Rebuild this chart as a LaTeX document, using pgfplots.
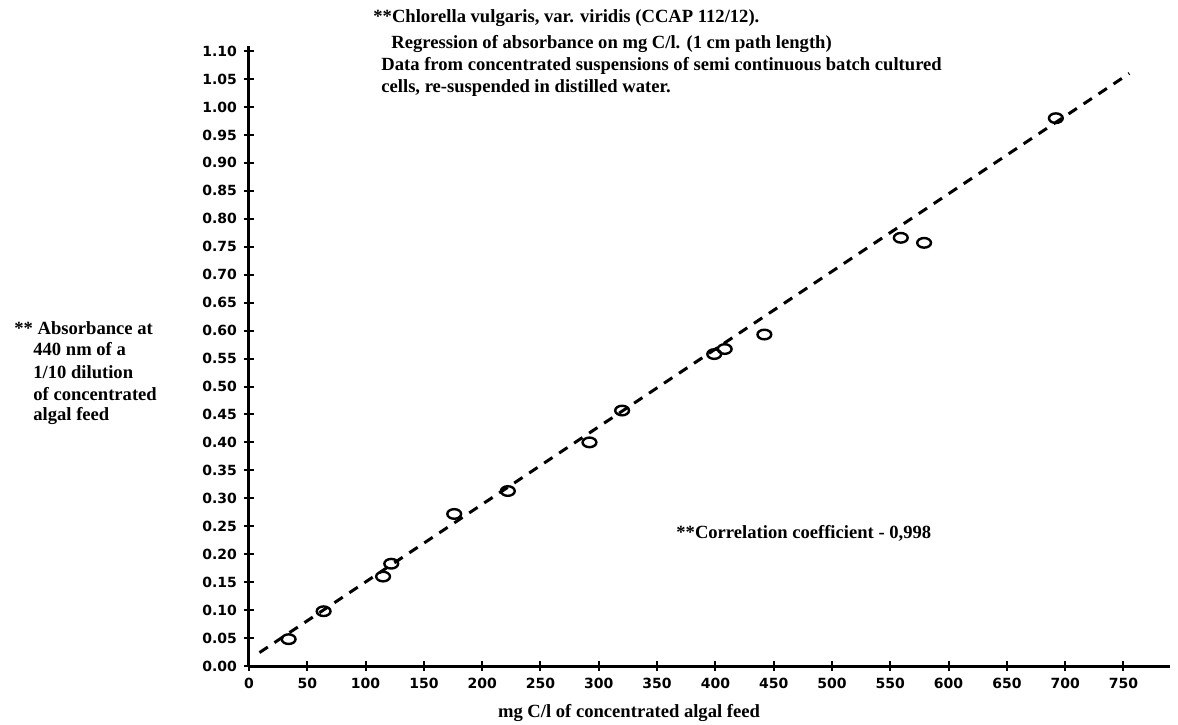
\documentclass[border=0pt]{standalone}
\usepackage{pgfplots}
\pgfplotsset{compat=1.18}
\usepackage{fontspec}
\setmainfont{Liberation Serif}
\newfontfamily\tickfont{DejaVu Sans}
\begin{document}
\begin{tikzpicture}
\useasboundingbox (-124.5pt,-29pt) rectangle (464.5pt,333pt);
\begin{axis}[
  x=0.583pt, y=279.5pt,
  xmin=0, xmax=790, ymin=0, ymax=1.11,
  axis x line=bottom, axis y line=left,
  axis line style={-, line width=1.5pt},
  xtick={0,50,...,750},
  ytick={0,0.05,...,1.1},
  tick align=center,
  major tick length=5pt,
  tick style={line width=1pt, black},
  /pgf/number format/assume math mode=true,
  yticklabel style={font=\tickfont\bfseries\fontsize{7}{8}\selectfont, /pgf/number format/.cd, fixed, fixed zerofill, precision=2},
  xticklabel style={font=\tickfont\bfseries\fontsize{7}{8}\selectfont},
  clip=false,
]
\addplot[black, line width=1.5pt, dash pattern=on 5pt off 4pt] coordinates {(9,0.024) (755,1.06)};
\addplot[only marks, mark=o, mark size=3pt, mark options={line width=1.2pt, xscale=1.15, yscale=0.8, black}] coordinates {
(34,0.048) (64,0.098) (115,0.160) (122,0.183) (176,0.272) (222,0.313)
(292,0.400) (320,0.457) (399,0.558) (408,0.567) (442,0.593)
(559,0.766) (579,0.757) (692,0.980)
};
\end{axis}
\begin{scope}[font=\bfseries\fontsize{9.3}{10}\selectfont]
\node[anchor=west, inner sep=0pt] at (62pt,324pt) {**Chlorella vulgaris, var. viridis (CCAP 112/12).};
\node[anchor=west, inner sep=0pt] at (71pt,311pt) {Regression of absorbance on mg C/l. (1 cm path length)};
\node[anchor=west, inner sep=0pt] at (66pt,300pt) {Data from concentrated suspensions of semi continuous batch cultured};
\node[anchor=west, inner sep=0pt] at (66pt,289pt) {cells, re-suspended in distilled water.};
\node[anchor=west, inner sep=0pt] at (-117.5pt,169pt) {** Absorbance at};
\node[anchor=west, inner sep=0pt] at (-108pt,158.5pt) {440 nm of a};
\node[anchor=west, inner sep=0pt] at (-108pt,147pt) {1/10 dilution};
\node[anchor=west, inner sep=0pt] at (-108pt,136pt) {of concentrated};
\node[anchor=west, inner sep=0pt] at (-108pt,125pt) {algal feed};
\node[inner sep=0pt] at (190pt,-23.5pt) {mg C/l of concentrated algal feed};
\node[anchor=west, inner sep=0pt] at (213.5pt,66.5pt) {**Correlation coefficient - 0,998};
\end{scope}
\end{tikzpicture}
\end{document}
